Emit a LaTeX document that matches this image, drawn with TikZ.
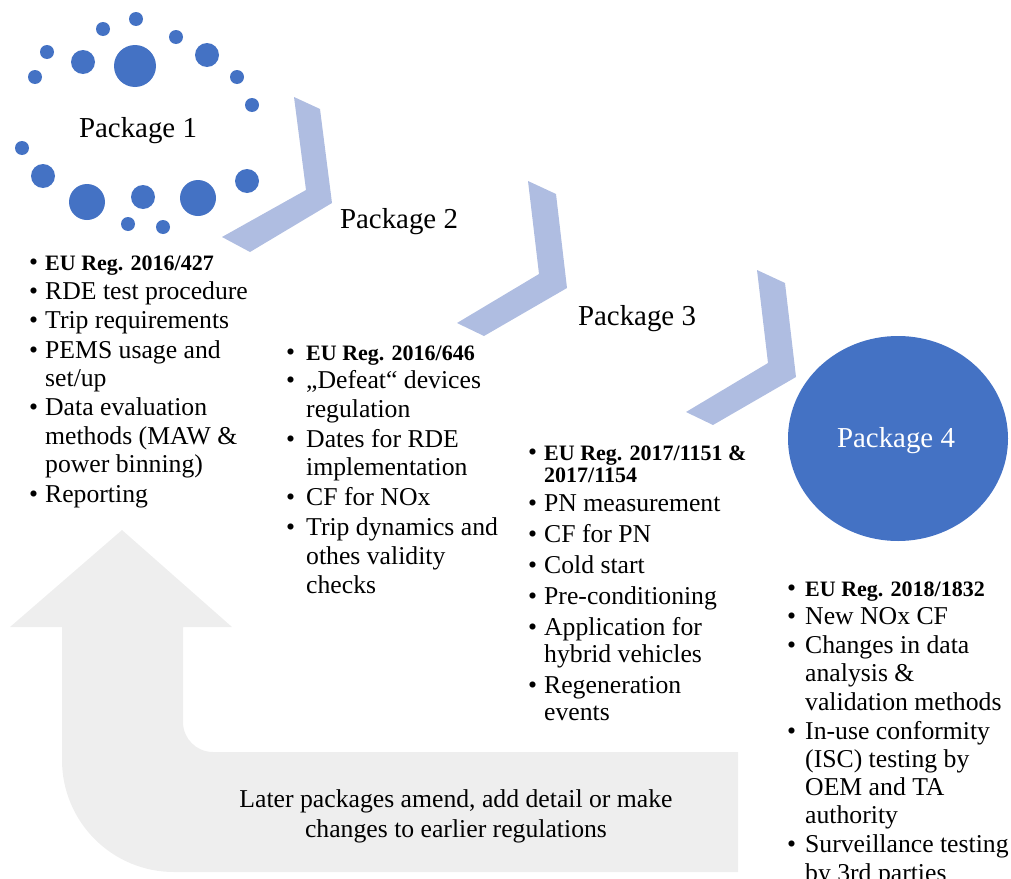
\documentclass[tikz,border=0pt]{standalone}
\usepackage{fontspec}
\setmainfont{Liberation Serif}
\definecolor{dotblue}{RGB}{68,114,196}
\definecolor{chev}{RGB}{175,189,225}
\definecolor{arrowgray}{RGB}{238,238,238}
\newcommand{\bl}[2][16bp]{\makebox[#1][l]{\textbullet}#2}
\newcommand{\ct}[2][16bp]{\hspace*{#1}#2}
\newcommand{\eub}[1]{{\fontsize{22bp}{28bp}\selectfont\bfseries #1}}
\tikzset{
  pkg/.style={font=\fontsize{28.9bp}{34bp}\selectfont, inner sep=0pt, anchor=base},
  lst/.style={align=left, inner sep=0pt, anchor=base west},
  chevron/.style={fill=chev},
  dot/.style={fill=dotblue},
  backarrow/.style={fill=arrowgray},
}
\begin{document}
\begin{tikzpicture}[x=1bp,y=-1bp]
\useasboundingbox (0,0) rectangle (1011,879);

% big bent return arrow
\fill[backarrow] (122,530) -- (232,627) -- (183,627) -- (183,722)
  .. controls (183,738.6) and (196.4,752) .. (213,752)
  -- (738,752) -- (738,872) -- (174,872)
  .. controls (112.1,872) and (62,821.9) .. (62,760)
  -- (62,627) -- (10,627) -- cycle;

% chevrons
\fill[chevron] (294,97) -- (320,109) -- (332,203) -- (250,252) -- (222,237) -- (306,190) -- cycle;
\fill[chevron] (528,181) -- (556,194) -- (567,288) -- (484,336) -- (457,323) -- (539,274) -- cycle;
\fill[chevron] (757,270) -- (785,283) -- (796,377) -- (713,425) -- (686,412) -- (768,363) -- cycle;

% package 1 dots
\foreach \cx/\cy/\r in {136/19/7, 103/29/7, 176/37/7, 47/52/7, 83/62/12, 135/66/21,
  207/55/12, 35/77/7, 237/77/7, 252/105/7, 22/148/7, 43/176/12, 87/202/18,
  143/197/12, 198/198/18, 247/181/12, 128/224/7, 163/227/7}
  \fill[dot] (\cx,\cy) circle[radius=\r];

% package 4 disc
\fill[dotblue] (898,438.5) ellipse[x radius=110, y radius=102.5];

% package labels
\node[pkg] (p1) at (138,137) {Package 1};
\node[pkg] (p2) at (399,228) {Package 2};
\node[pkg] (p3) at (637,325) {Package 3};
\node[pkg, text=white] (p4) at (896,447) {Package 4};

% lists (anchored at the baseline of their last line)
\node[lst, font=\fontsize{25.7bp}{28.3bp}\selectfont] (l1) at (29,502) {%
\bl{\eub{EU Reg. 2016/427}}\\
\bl{RDE test procedure}\\[1.2bp]
\bl{Trip requirements}\\[1.2bp]
\bl{PEMS usage and}\\
\ct{set/up}\\[1.2bp]
\bl{Data evaluation}\\
\ct{methods (MAW \&}\\
\ct{power binning)}\\[1.2bp]
\bl{Reporting}};

\node[lst, font=\fontsize{25.7bp}{28.6bp}\selectfont] (l2) at (286,593) {%
\bl[20bp]{\eub{EU Reg. 2016/646}}\\
\bl[20bp]{„Defeat“ devices}\\
\ct[20bp]{regulation}\\[1.4bp]
\bl[20bp]{Dates for RDE}\\
\ct[20bp]{implementation}\\[1.4bp]
\bl[20bp]{CF for NOx}\\[1.4bp]
\bl[20bp]{Trip dynamics and}\\
\ct[20bp]{othes validity}\\
\ct[20bp]{checks}};

\node[lst, font=\fontsize{25.7bp}{27bp}\selectfont] (l3) at (528,720) {%
\bl{\eub{EU Reg. 2017/1151 \&}}\\[-5bp]
\ct{\eub{2017/1154}}\\[2bp]
\bl{PN measurement}\\[4bp]
\bl{CF for PN}\\[4bp]
\bl{Cold start}\\[4bp]
\bl{Pre-conditioning}\\[4bp]
\bl{Application for}\\
\ct{hybrid vehicles}\\[4bp]
\bl{Regeneration}\\
\ct{events}};

\node[lst, font=\fontsize{25.7bp}{28.3bp}\selectfont] (l4) at (787,881) {%
\bl[18bp]{\eub{EU Reg. 2018/1832}}\\
\bl[18bp]{New NOx CF}\\[0.5bp]
\bl[18bp]{Changes in data}\\
\ct[18bp]{analysis \&}\\
\ct[18bp]{validation methods}\\[0.5bp]
\bl[18bp]{In-use conformity}\\
\ct[18bp]{(ISC) testing by}\\
\ct[18bp]{OEM and TA}\\
\ct[18bp]{authority}\\[0.5bp]
\bl[18bp]{Surveillance testing}\\
\ct[18bp]{by 3rd parties}};

% note in the return arrow
\node[align=center, inner sep=0pt, anchor=base, font=\fontsize{25.7bp}{30bp}\selectfont] (note) at (456,837)
  {Later packages amend, add detail or make\\changes to earlier regulations};
\end{tikzpicture}
\end{document}
